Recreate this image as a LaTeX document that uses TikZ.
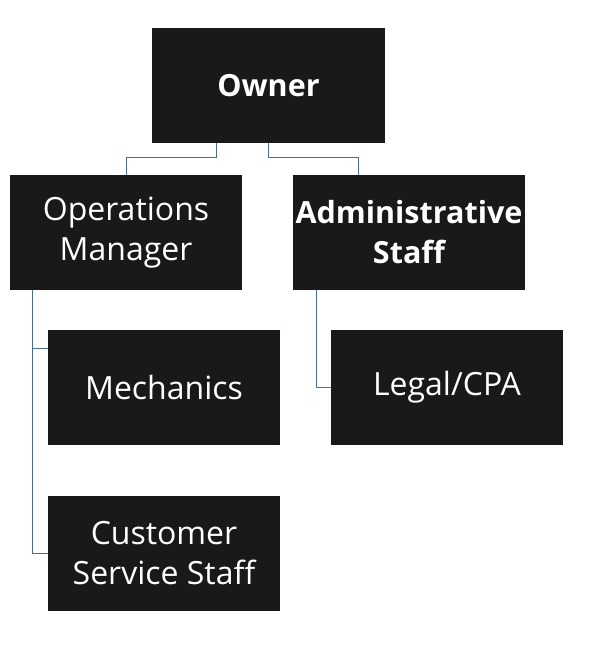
\documentclass[tikz,border=0pt]{standalone}
\usepackage{fontspec}
\setmainfont{Open Sans}
\definecolor{boxfill}{HTML}{1A1818}
\definecolor{linkc}{HTML}{4A6B9A}
\begin{document}
\begin{tikzpicture}[x=1pt,y=-1pt,
  orgbox/.style={fill=boxfill,text=white,minimum width=232pt,minimum height=115pt,
    inner sep=0pt,align=center,font=\fontsize{32}{40}\selectfont},
  boldtext/.style={font=\fontsize{30.5}{40}\selectfont\bfseries},
  link/.style={draw=linkc,line width=1pt}]
\useasboundingbox (0,0) rectangle (589,650);
\node[orgbox,minimum width=233pt,boldtext] (owner) at (268.5,85.5) {Owner};
\node[orgbox] (ops) at (126,232.5) {Operations\\Manager};
\node[orgbox,boldtext] (admin) at (409,232.5) {Administrative\\Staff};
\node[orgbox] (mech) at (164,387.5) {Mechanics};
\node[orgbox] (cust) at (164,553.5) {Customer\\Service Staff};
\node[orgbox] (legal) at (447,387.5) {Legal/CPA};
\draw[link] (owner.south -| 216,0) |- (126,157) -- (ops.north);
\draw[link] (owner.south -| 268,0) |- (358,157) -- (admin.north -| 358,0);
\draw[link] (ops.south -| 32,0) |- (mech.west |- 0,348);
\draw[link] (ops.south -| 32,0) |- (cust.west);
\draw[link] (admin.south -| 316,0) |- (legal.west);
\end{tikzpicture}
\end{document}
